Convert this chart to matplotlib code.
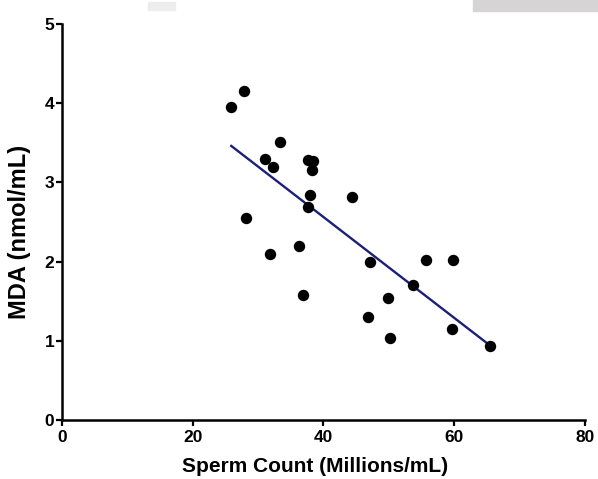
import numpy as np
import matplotlib
matplotlib.use("Agg")
import matplotlib.pyplot as plt
from matplotlib.patches import Rectangle

# Data
sperm_count = [25.9, 27.9, 28.1, 31.0, 32.3, 33.4, 31.8, 36.3, 36.9,
               37.6, 38.4, 38.2, 37.9, 37.6, 44.4, 47.2, 46.8, 49.9,
               50.2, 53.7, 55.7, 59.8, 59.6, 65.5]
mda = [3.95, 4.15, 2.55, 3.29, 3.19, 3.51, 2.10, 2.20, 1.58,
       3.28, 3.27, 3.15, 2.84, 2.69, 2.82, 2.00, 1.30, 1.54,
       1.03, 1.70, 2.02, 2.02, 1.15, 0.94]
fit_x = [25.9, 65.5]
fit_y = [3.46, 0.94]

x_ticks = [0, 20, 40, 60, 80]
y_ticks = [0, 1, 2, 3, 4, 5]

plt.rcParams['font.family'] = ['Liberation Sans', 'DejaVu Sans']

fig = plt.figure(figsize=(5.98, 4.79), dpi=100)
ax = fig.add_axes([0.1037, 0.1232, 0.978 - 0.1037, 0.95 - 0.1232])

ax.plot(fit_x, fit_y, color='#1c1f7a', lw=1.7, zorder=2)
ax.plot(sperm_count, mda, 'o', color='black', ms=7.2, mec='black', zorder=3)

ax.set_xlim(0, 80)
ax.set_ylim(0, 5)
ax.set_xticks(x_ticks)
ax.set_yticks(y_ticks)
for s in ['top', 'right']:
    ax.spines[s].set_visible(False)
for s in ['left', 'bottom']:
    ax.spines[s].set_linewidth(1.8)
    ax.spines[s].set_color('black')
ax.tick_params(axis='both', direction='out', length=4.5, width=1.6,
               labelsize=12.5)
ax.tick_params(axis='x', pad=3)
ax.tick_params(axis='y', pad=1)
for lab in ax.get_xticklabels() + ax.get_yticklabels():
    lab.set_fontweight('bold')
ax.set_xlabel('Sperm Count (Millions/mL)', fontsize=15, fontweight='bold')
ax.set_ylabel('MDA (nmol/mL)', fontsize=17, fontweight='bold')
ax.xaxis.set_label_coords(0.484, -0.094)
ax.yaxis.set_label_coords(-0.06, 0.475)

# grey strip artefacts at the top of the reference
fig.patches.append(Rectangle((473/598, 1 - 11/479), 125/598, 11/479,
                             transform=fig.transFigure, color='#d6d4d4', zorder=0))
fig.patches.append(Rectangle((148/598, 1 - 10/479), 27/598, 8/479,
                             transform=fig.transFigure, color='#ededed', zorder=0))

fig.savefig('out.png', dpi=100)
